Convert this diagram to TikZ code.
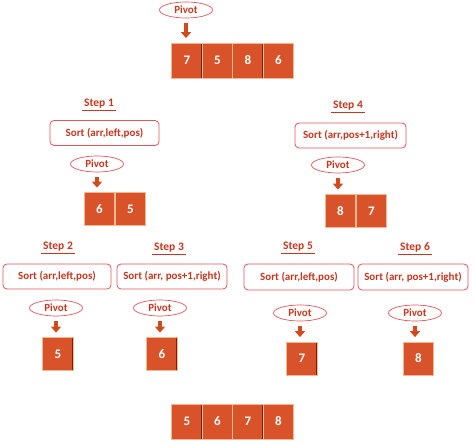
\documentclass[tikz,border=0pt]{standalone}
\usepackage{fontspec}
\setmainfont{Carlito}
\usetikzlibrary{shapes.geometric,arrows.meta}
\definecolor{cellfill}{HTML}{D8532A}
\definecolor{cellrim}{HTML}{F6B88E}
\definecolor{celldark}{HTML}{6E2410}
\definecolor{boxred}{HTML}{E4545A}
\definecolor{textred}{HTML}{C8361F}
\definecolor{arrowred}{HTML}{D04A1E}

\begin{document}
\begin{tikzpicture}[x=1pt, y=-1pt, every node/.style={font=\fontsize{11}{12}\selectfont\bfseries},
  cell/.style={draw=cellrim, line width=0.8pt, fill=cellfill, text=white, inner sep=0pt,
    minimum width=30.5pt, minimum height=33pt, font=\fontsize{13}{14}\selectfont\bfseries,
    path picture={\draw[celldark, line width=1.6pt] (path picture bounding box.north east) -- (path picture bounding box.south east);}},
  sortbox/.style={draw=boxred, fill=white, text=textred, rounded corners=4pt, line width=0.8pt,
    minimum width=109pt, minimum height=25pt, inner sep=0pt},
  pivot/.style={ellipse, draw=boxred, text=textred, line width=0.7pt, minimum width=53pt, minimum height=16pt, inner sep=0pt},
  steplabel/.style={text=textred, inner sep=2pt, font=\fontsize{11.5}{12}\selectfont\bfseries},
  stepline/.style={draw=textred, line width=0.8pt},
  pivotarrow/.style={draw=arrowred, line width=4pt, -{Triangle[width=10pt,length=6pt]}, shorten <=4.5pt, shorten >=4.5pt}]

  \useasboundingbox (0,0) rectangle (474,446);

  % starting array
  \node[pivot] (p0) at (186,10) {Pivot};
  \foreach \v [count=\i] in {7,5,8,6}
    \node[cell, minimum height=35pt] (a\i) at (156.5+30.5*\i,60.5) {\v};
  \draw[pivotarrow] (p0.south) -- (p0.south |- a1.north);

  % step 1 and step 4
  \node[steplabel] (s1) at (99,104) {Step 1};
  \draw[stepline] (s1.south west) -- (s1.south east);
  \node[sortbox] (b1) at (104.5,133) {Sort (arr,left,pos)};
  \node[pivot] (p1) at (97,164) {Pivot};
  \node[cell] (c11) at (99.5,209) {6};
  \node[cell] (c12) at (130.5,209) {5};
  \draw[pivotarrow] (p1.south) -- (p1.south |- c11.north);

  \node[steplabel] (s4) at (348,106) {Step 4};
  \draw[stepline] (s4.south west) -- (s4.south east);
  \node[sortbox, minimum width=111pt] (b4) at (350.5,135.5) {Sort (arr,pos+1,right)};
  \node[pivot] (p4) at (338,165) {Pivot};
  \node[cell] (c41) at (340.5,211) {8};
  \node[cell] (c42) at (371.5,211) {7};
  \draw[pivotarrow] (p4.south) -- (p4.south |- c41.north);

  % steps 2, 3, 5, 6
  \node[steplabel] (s2) at (58,247) {Step 2};
  \draw[stepline] (s2.south west) -- (s2.south east);
  \node[sortbox, minimum width=108pt] (b2) at (57,276.5) {Sort (arr,left,pos)};
  \node[pivot] (p2) at (56,308) {Pivot};
  \node[cell] (c2) at (58,354) {5};
  \draw[pivotarrow] (p2.south) -- (p2.south |- c2.north);

  \node[steplabel] (s3) at (169,248) {Step 3};
  \draw[stepline] (s3.south west) -- (s3.south east);
  \node[sortbox, minimum width=110pt] (b3) at (172,276.5) {Sort (arr, pos+1,right)};
  \node[pivot] (p3) at (160,308) {Pivot};
  \node[cell] (c3) at (162,354) {6};
  \draw[pivotarrow] (p3.south) -- (p3.south |- c3.north);

  \node[steplabel] (s5) at (298,247) {Step 5};
  \draw[stepline] (s5.south west) -- (s5.south east);
  \node[sortbox, minimum width=110pt, minimum height=26pt] (b5) at (299,277) {Sort (arr,left,pos)};
  \node[pivot] (p5) at (300,313) {Pivot};
  \node[cell] (c5) at (302,358.5) {7};
  \draw[pivotarrow] (p5.south) -- (p5.south |- c5.north);

  \node[steplabel] (s6) at (415,247) {Step 6};
  \draw[stepline] (s6.south west) -- (s6.south east);
  \node[sortbox, minimum width=110pt, minimum height=26pt] (b6) at (413,277) {Sort (arr, pos+1,right)};
  \node[pivot] (p6) at (415,313) {Pivot};
  \node[cell] (c6) at (418.5,358.5) {8};
  \draw[pivotarrow] (p6.south) -- (p6.south |- c6.north);

  % sorted array
  \foreach \v [count=\i] in {5,6,7,8}
    \node[cell, minimum height=35pt] (z\i) at (156.5+30.5*\i,421.5) {\v};

\end{tikzpicture}
\end{document}
